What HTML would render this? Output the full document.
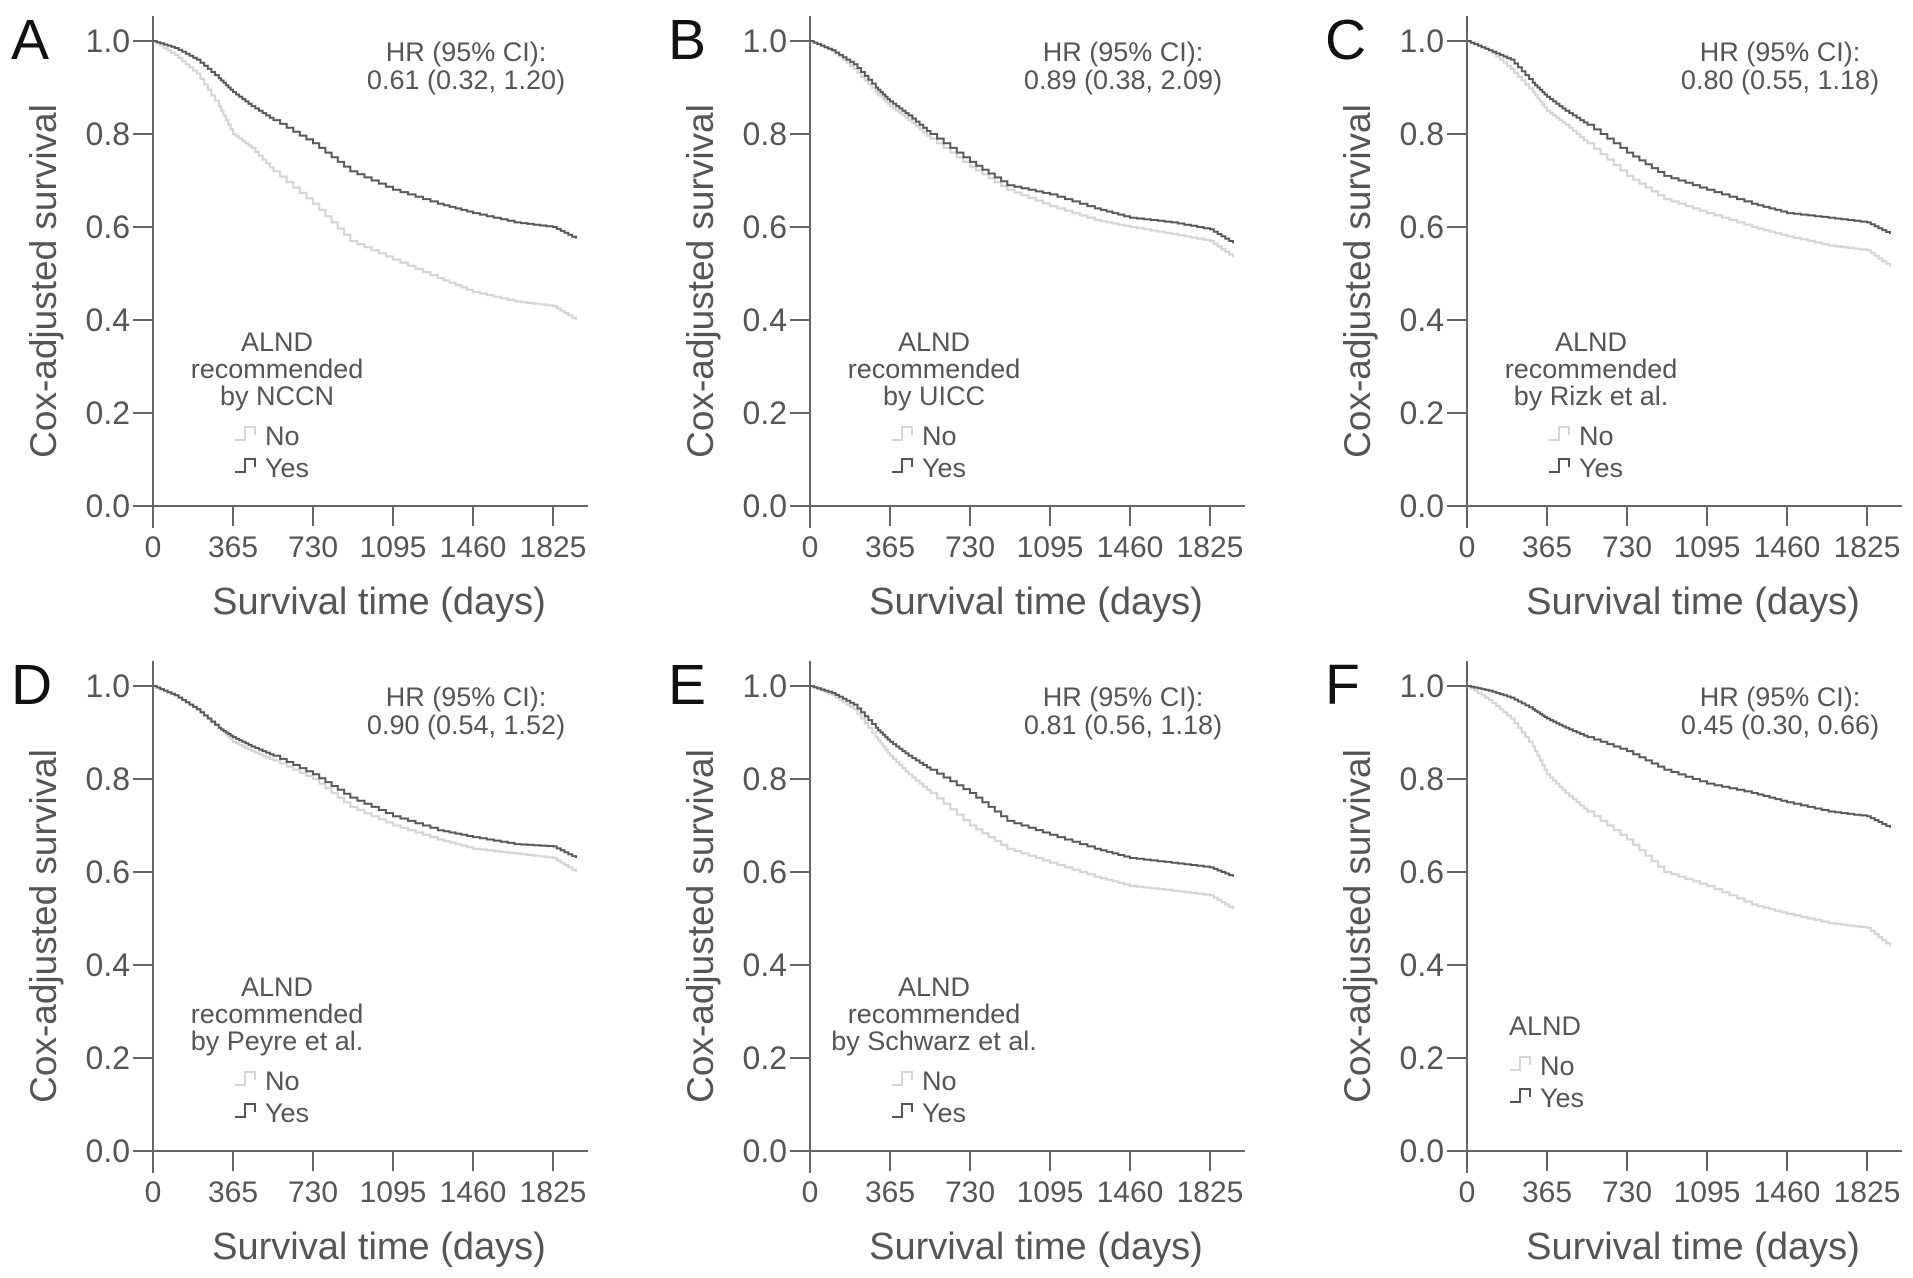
<!DOCTYPE html>
<html><head><meta charset="utf-8">
<style>
html,body{margin:0;padding:0;background:#fff;}
svg{display:block;font-family:"Liberation Sans",Arial,sans-serif;}
</style></head>
<body>
<svg id="fig" width="1913" height="1278" viewBox="0 0 1913 1278" xmlns="http://www.w3.org/2000/svg"></svg>
<script>
const days = [0,100,200,300,365,450,550,730,900,1095,1300,1460,1650,1825,1930];
const xTicks = [0,365,730,1095,1460,1825];
const yTicks = [0,0.2,0.4,0.6,0.8,1.0];
const panelLetters = ["A","B","C","D","E","F"];
const hrTexts = ["0.61 (0.32, 1.20)","0.89 (0.38, 2.09)","0.80 (0.55, 1.18)","0.90 (0.54, 1.52)","0.81 (0.56, 1.18)","0.45 (0.30, 0.66)"];
const legendTitles = [["ALND","recommended","by NCCN"],["ALND","recommended","by UICC"],["ALND","recommended","by Rizk et al."],["ALND","recommended","by Peyre et al."],["ALND","recommended","by Schwarz et al."],["ALND"]];
const yesA=[1,0.985,0.96,0.92,0.89,0.86,0.83,0.78,0.72,0.68,0.65,0.63,0.61,0.60,0.575];
const noA =[1,0.97,0.93,0.86,0.80,0.77,0.72,0.65,0.57,0.53,0.49,0.46,0.44,0.43,0.40];
const yesB=[1,0.98,0.95,0.90,0.87,0.84,0.80,0.74,0.69,0.67,0.64,0.62,0.61,0.595,0.565];
const noB =[1,0.98,0.94,0.89,0.86,0.83,0.79,0.73,0.68,0.645,0.615,0.60,0.585,0.57,0.535];
const yesC=[1,0.98,0.96,0.91,0.88,0.85,0.82,0.76,0.71,0.68,0.65,0.63,0.62,0.61,0.585];
const noC =[1,0.98,0.94,0.89,0.85,0.82,0.78,0.71,0.66,0.63,0.60,0.58,0.56,0.55,0.515];
const yesD=[1,0.98,0.95,0.91,0.89,0.87,0.85,0.81,0.76,0.72,0.69,0.675,0.66,0.655,0.63];
const noD =[1,0.98,0.95,0.91,0.88,0.86,0.84,0.80,0.74,0.70,0.67,0.65,0.64,0.63,0.60];
const yesE=[1,0.985,0.96,0.91,0.88,0.85,0.82,0.77,0.71,0.68,0.65,0.63,0.62,0.61,0.59];
const noE =[1,0.98,0.95,0.89,0.85,0.81,0.77,0.70,0.65,0.62,0.59,0.57,0.56,0.55,0.52];
const yesF=[1,0.99,0.975,0.95,0.93,0.91,0.89,0.86,0.82,0.79,0.77,0.75,0.73,0.72,0.695];
const noF =[1,0.97,0.93,0.87,0.81,0.77,0.73,0.67,0.60,0.57,0.53,0.51,0.49,0.48,0.44];
const yesSeries=[yesA,yesB,yesC,yesD,yesE,yesF];
const noSeries=[noA,noB,noC,noD,noE,noF];

const NS="http://www.w3.org/2000/svg";
const svg=document.getElementById('fig');
function mk(tag,attrs,parent,text){const e=document.createElementNS(NS,tag);for(const k in attrs)e.setAttribute(k,attrs[k]);if(text!==undefined)e.textContent=text;(parent||svg).appendChild(e);return e;}

const origins=[[153,506],[810,506],[1467,506],[153,1151],[810,1151],[1467,1151]];
const W=400/1825, H=465;
for(let p=0;p<6;p++){
  const [ox,oy]=origins[p];
  const g=mk('g',{});
  
  
  const sx=d=>ox+d*W, sy=v=>oy-v*H;
  const letter=mk('text',{x:ox-142,y:oy-447,'font-size':57,fill:'#111'},g,panelLetters[p]);
  
  
  const ya=mk('line',{x1:ox,y1:oy-490,x2:ox,y2:oy+22,stroke:'#666','stroke-width':2},g);
  
  
  const xa=mk('line',{x1:ox-20,y1:oy,x2:ox+435,y2:oy,stroke:'#666','stroke-width':2},g);
  
  
  yTicks.forEach(t=>{
    mk('line',{x1:ox-20,y1:sy(t),x2:ox,y2:sy(t),stroke:'#666','stroke-width':2},g);
    const tl=mk('text',{x:ox-23,y:sy(t)+11,'font-size':32,fill:'#555','text-anchor':'end'},g,t.toFixed(1));
    
    
  });
  xTicks.forEach(t=>{
    mk('line',{x1:sx(t),y1:oy,x2:sx(t),y2:oy+20,stroke:'#666','stroke-width':2},g);
    const tl=mk('text',{x:sx(t),y:oy+51,'font-size':30,fill:'#555','text-anchor':'middle'},g,String(t));
    
    
  });
  const xt=mk('text',{x:ox+226,y:oy+108,'font-size':38,fill:'#555','text-anchor':'middle'},g,'Survival time (days)');
  
  
  const yt=mk('text',{x:0,y:0,'font-size':37,fill:'#555','text-anchor':'middle',transform:`translate(${ox-97},${oy-225}) rotate(-90)`},g,'Cox-adjusted survival');
  
  
  const hr1=mk('text',{x:ox+313,y:oy-445,'font-size':27,fill:'#555','text-anchor':'middle'},g,'HR (95% CI):');
  
  
  const hr2=mk('text',{x:ox+313,y:oy-417,'font-size':27,fill:'#555','text-anchor':'middle'},g,hrTexts[p]);
  
  
  function stepPath(vals){
    let d=`M${sx(days[0])},${sy(vals[0])}`;
    for(let i=1;i<days.length;i++){
      const n=6;
      for(let k=1;k<=n;k++){
        const dd=days[i-1]+(days[i]-days[i-1])*k/n;
        const v=vals[i-1]+(vals[i]-vals[i-1])*k/n;
        d+=`H${sx(dd).toFixed(1)}V${sy(v).toFixed(1)}`;
      }
    }
    return d;
  }
  const cn=mk('path',{d:stepPath(noSeries[p]),fill:'none',stroke:'#d6d6d6','stroke-width':2.2},g);
  
  
  const cy=mk('path',{d:stepPath(yesSeries[p]),fill:'none',stroke:'#585858','stroke-width':2},g);
  
  
  const lt=legendTitles[p];
  const isF=lt.length===1;
  const lcx=isF?ox+42:ox+124;
  const ly0=isF?oy-116:oy-155;
  lt.forEach((s,i)=>{
    const t=mk('text',{x:lcx,y:ly0+i*27,'font-size':27,fill:'#555','text-anchor':isF?'start':'middle'},g,s);
    
    
  });
  const lx=isF?ox+43:ox+82;
  const lyNo=ly0+lt.length*27+8;
  [[lyNo,'#d6d6d6','No'],[lyNo+32,'#555','Yes']].forEach(([yy,c,s])=>{
    const e=mk('g',{},g);
    
    
    mk('path',{d:`M${lx},${yy}H${lx+10}V${yy-13}H${lx+20}V${yy-5}`,fill:'none',stroke:c,'stroke-width':2},e);
    mk('text',{x:lx+30,y:yy+5,'font-size':27,fill:'#555'},e,s);
  });
}
</script>
</body></html>
